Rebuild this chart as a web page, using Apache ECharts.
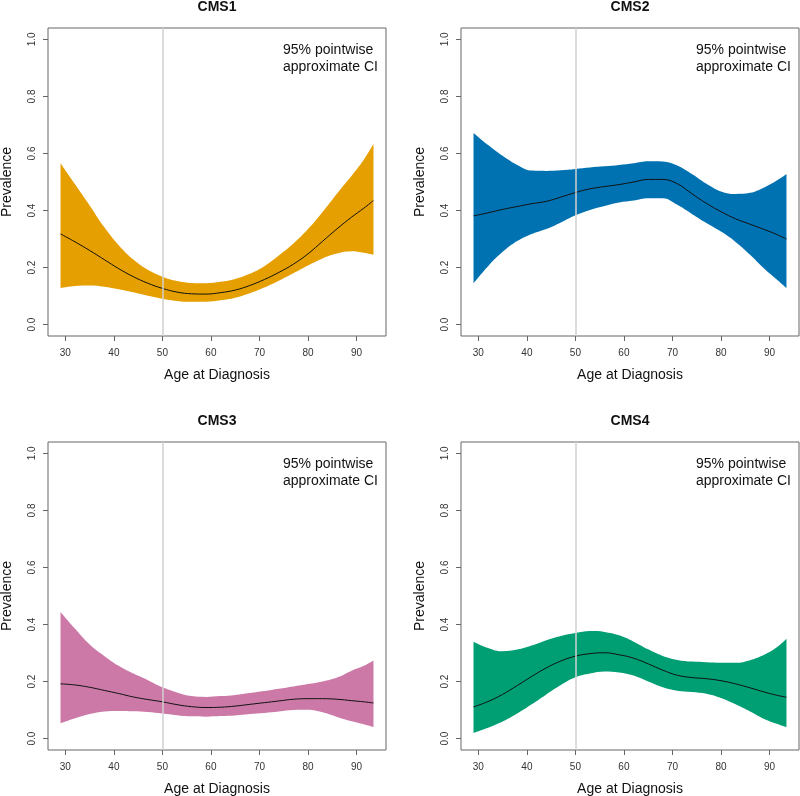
<!DOCTYPE html>
<html>
<head>
<meta charset="utf-8">
<script src="https://cdn.jsdelivr.net/npm/echarts@6/dist/echarts.min.js"></script>
<style>
  html, body { margin: 0; padding: 0; background: #fff; }
  #main { width: 800px; height: 796px; }
</style>
</head>
<body>
<div id="main"></div>
<script>
// age grid (x) shared by all four panels
var ages = [29, 32, 35, 38, 41, 44, 47, 50, 53, 56, 59, 62, 65, 68, 71, 74, 77, 80, 83, 86, 89, 91.5, 93.5];

// CMS1
var cms1Mean  = [0.318, 0.290, 0.260, 0.228, 0.196, 0.168, 0.145, 0.127, 0.114, 0.108, 0.107, 0.112, 0.121, 0.137, 0.158, 0.183, 0.212, 0.248, 0.292, 0.336, 0.377, 0.408, 0.435];
var cms1Lower = [0.128, 0.135, 0.137, 0.133, 0.124, 0.113, 0.101, 0.091, 0.083, 0.080, 0.080, 0.085, 0.094, 0.110, 0.130, 0.154, 0.180, 0.207, 0.232, 0.249, 0.257, 0.252, 0.245];
var cms1Upper = [0.566, 0.492, 0.418, 0.342, 0.278, 0.228, 0.192, 0.168, 0.153, 0.146, 0.145, 0.150, 0.160, 0.178, 0.205, 0.242, 0.284, 0.335, 0.395, 0.460, 0.522, 0.578, 0.634];

// CMS2
var cms2Mean  = [0.381, 0.392, 0.404, 0.414, 0.424, 0.432, 0.447, 0.463, 0.476, 0.484, 0.491, 0.500, 0.509, 0.509, 0.494, 0.459, 0.425, 0.396, 0.371, 0.352, 0.333, 0.316, 0.300];
var cms2Lower = [0.145, 0.205, 0.255, 0.293, 0.318, 0.335, 0.358, 0.383, 0.402, 0.416, 0.428, 0.435, 0.443, 0.443, 0.420, 0.388, 0.356, 0.326, 0.290, 0.245, 0.195, 0.158, 0.128];
var cms2Upper = [0.672, 0.630, 0.592, 0.560, 0.540, 0.539, 0.541, 0.546, 0.551, 0.555, 0.560, 0.566, 0.573, 0.572, 0.558, 0.528, 0.494, 0.467, 0.458, 0.462, 0.482, 0.505, 0.528];

// CMS3
var cms3Mean  = [0.192, 0.188, 0.180, 0.169, 0.158, 0.146, 0.137, 0.129, 0.119, 0.112, 0.109, 0.110, 0.114, 0.120, 0.126, 0.132, 0.138, 0.140, 0.140, 0.138, 0.133, 0.129, 0.125];
var cms3Lower = [0.053, 0.071, 0.086, 0.095, 0.097, 0.096, 0.093, 0.088, 0.082, 0.078, 0.077, 0.079, 0.081, 0.086, 0.090, 0.095, 0.100, 0.101, 0.092, 0.076, 0.061, 0.050, 0.040];
var cms3Upper = [0.444, 0.385, 0.330, 0.290, 0.255, 0.228, 0.205, 0.180, 0.162, 0.149, 0.146, 0.149, 0.153, 0.160, 0.167, 0.175, 0.183, 0.191, 0.200, 0.214, 0.238, 0.255, 0.274];

// CMS4
var cms4Mean  = [0.111, 0.130, 0.155, 0.186, 0.218, 0.248, 0.272, 0.289, 0.298, 0.301, 0.294, 0.282, 0.262, 0.240, 0.222, 0.214, 0.210, 0.203, 0.192, 0.178, 0.163, 0.152, 0.145];
var cms4Lower = [0.020, 0.038, 0.060, 0.088, 0.120, 0.155, 0.188, 0.215, 0.228, 0.235, 0.232, 0.221, 0.200, 0.180, 0.168, 0.163, 0.157, 0.142, 0.120, 0.095, 0.068, 0.052, 0.040];
var cms4Upper = [0.340, 0.318, 0.306, 0.312, 0.326, 0.345, 0.360, 0.370, 0.377, 0.374, 0.362, 0.340, 0.313, 0.290, 0.276, 0.270, 0.268, 0.266, 0.266, 0.275, 0.295, 0.320, 0.350];

var xTicks = [30, 40, 50, 60, 70, 80, 90];
var yTicks = [0, 0.2, 0.4, 0.6, 0.8, 1.0];
var refAge = 50;

var panels = [
  { name: 'CMS1', mean: cms1Mean, lower: cms1Lower, upper: cms1Upper, color: '#E69F00' },
  { name: 'CMS2', mean: cms2Mean, lower: cms2Lower, upper: cms2Upper, color: '#0072B2' },
  { name: 'CMS3', mean: cms3Mean, lower: cms3Lower, upper: cms3Upper, color: '#CC79A7' },
  { name: 'CMS4', mean: cms4Mean, lower: cms4Lower, upper: cms4Upper, color: '#009E73' }
];

var FONT = '"Liberation Sans", Arial, sans-serif';
// panel box positions (left, top)
var boxes = [[48, 28], [461, 28], [48, 442], [461, 442]];
var boxW = 338, boxH = 308;

var grids = [], xAxes = [], yAxes = [], series = [], titles = [], notes = [];

panels.forEach(function (p, i) {
  var left = boxes[i][0], top = boxes[i][1];
  grids.push({
    left: left, top: top, width: boxW, height: boxH,
    show: true, borderColor: '#666', borderWidth: 1, backgroundColor: 'transparent',
    containLabel: false, outerBoundsMode: 'none'
  });
  xAxes.push({
    type: 'value', gridIndex: i, min: 26.42, max: 96.08,
    splitLine: { show: false },
    axisLine: { show: false, onZero: false },
    axisTick: { show: true, length: 5, lineStyle: { color: '#666' }, customValues: xTicks },
    axisLabel: { customValues: xTicks, margin: 12, fontSize: 10, color: '#333', fontFamily: FONT },
    name: 'Age at Diagnosis', nameLocation: 'middle', nameGap: 32,
    nameTextStyle: { fontSize: 14, color: '#111', fontFamily: FONT }
  });
  yAxes.push({
    type: 'value', gridIndex: i, min: -0.04, max: 1.04,
    splitLine: { show: false },
    axisLine: { show: false, onZero: false },
    axisTick: { show: true, length: 5, lineStyle: { color: '#666' }, customValues: yTicks },
    axisLabel: {
      customValues: yTicks, rotate: 90, margin: 11, fontSize: 10, color: '#333', fontFamily: FONT,
      formatter: function (v) { return v.toFixed(1); }
    },
    name: 'Prevalence', nameLocation: 'middle', nameGap: 34,
    nameTextStyle: { fontSize: 14, color: '#111', fontFamily: FONT }
  });
  titles.push({
    text: p.name, left: left + boxW / 2, top: top - 28, textAlign: 'center', padding: 0,
    textStyle: { fontSize: 14, fontWeight: 'bold', color: '#111', fontFamily: FONT }
  });
  notes.push({
    type: 'text', x: left + 235, y: top + 13, z: 100,
    style: {
      text: '95% pointwise\napproximate CI', fontSize: 14, fontFamily: FONT,
      fill: '#111', lineHeight: 17.5
    }
  });

  // value first, age second, so the stack runs along the y axis
  var lowerData = ages.map(function (a, k) { return [p.lower[k], a]; });
  var bandData = ages.map(function (a, k) { return [p.upper[k] - p.lower[k], a]; });
  var meanData = ages.map(function (a, k) { return [a, p.mean[k]]; });

  series.push({
    type: 'line', xAxisIndex: i, yAxisIndex: i, data: lowerData, encode: { x: 1, y: 0 },
    stack: 'ci' + i, smooth: 0.4, symbol: 'none', lineStyle: { width: 0, opacity: 0 }, silent: true
  });
  series.push({
    type: 'line', xAxisIndex: i, yAxisIndex: i, data: bandData, encode: { x: 1, y: 0 },
    stack: 'ci' + i, smooth: 0.4, symbol: 'none', lineStyle: { width: 0, opacity: 0 },
    areaStyle: { color: p.color, opacity: 1 }, silent: true
  });
  series.push({
    type: 'line', xAxisIndex: i, yAxisIndex: i, data: meanData,
    smooth: 0.4, symbol: 'none', lineStyle: { color: '#111', width: 1 }, silent: true,
    markLine: {
      silent: true, symbol: 'none', label: { show: false },
      lineStyle: { color: '#d0d0d0', width: 1.5, type: 'solid' },
      data: [{ xAxis: refAge }]
    }
  });
});

var myChart = echarts.init(document.getElementById('main'), null, { renderer: 'canvas' });
var option = {
  animation: false,
  backgroundColor: '#fff',
  title: titles,
  grid: grids,
  xAxis: xAxes,
  yAxis: yAxes,
  series: series,
  graphic: { elements: notes }
};
myChart.setOption(option);
</script>
</body>
</html>
